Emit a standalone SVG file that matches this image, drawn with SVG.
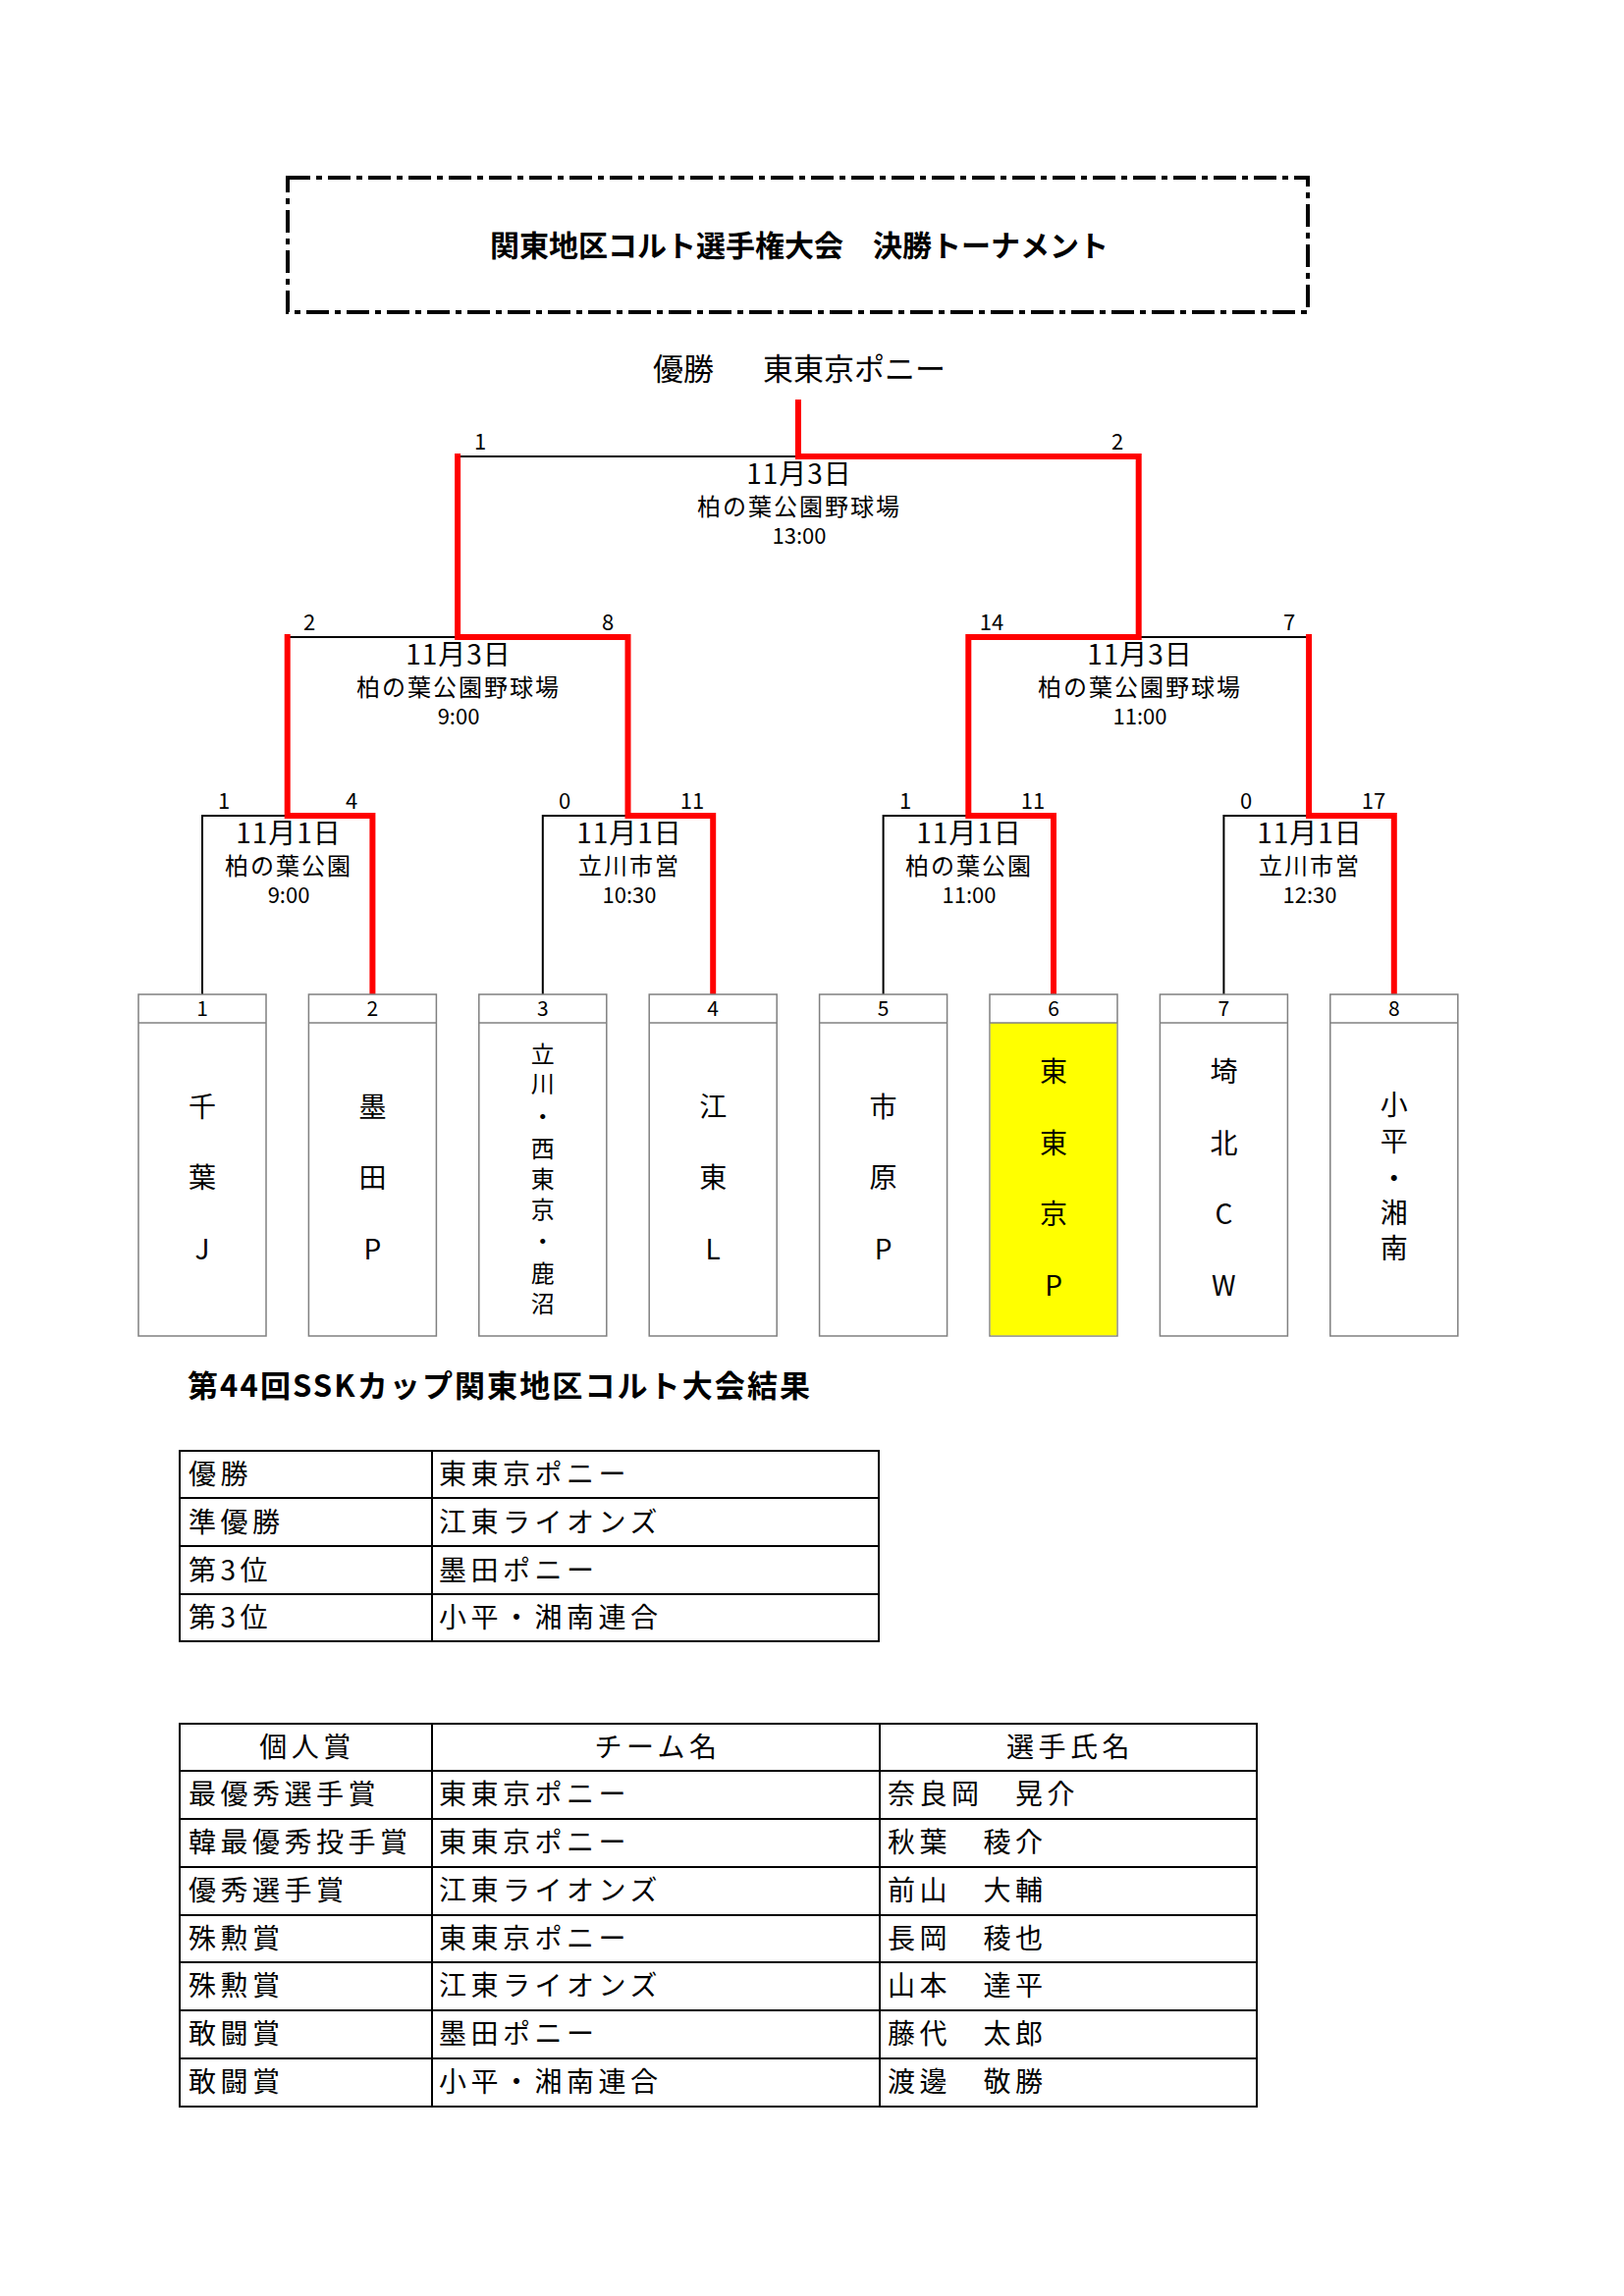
<svg xmlns="http://www.w3.org/2000/svg" width="1654" height="2339" viewBox="0 0 1654 2339">
<style>
text{font-family:"Noto Sans CJK JP","Noto Sans",sans-serif;fill:#000}
.title{font-size:30px;font-weight:700}
.champ{font-size:31px}
.date{font-size:28px;text-anchor:middle;letter-spacing:1px}
.venue{font-size:24px;text-anchor:middle;letter-spacing:2px}
.time{font-size:22px;text-anchor:middle}
.score{font-size:22px;text-anchor:middle}
.num{font-size:21px;text-anchor:middle}
.team{font-size:28px;text-anchor:middle}
.team3{font-size:24px;text-anchor:middle}
.head{font-size:31px;font-weight:700}
.cell{font-size:28px;letter-spacing:4.5px}
.hcell{font-size:28px;letter-spacing:4.5px;text-anchor:middle}
.box{fill:#fff;stroke:#808080;stroke-width:1.5}
.blk{fill:none;stroke:#000;stroke-width:2}
.red{fill:none;stroke:#ff0000;stroke-width:6;stroke-linecap:square;stroke-linejoin:miter}
.tbl{fill:none;stroke:#000;stroke-width:2}
</style>

<g id="title">
<rect x="293" y="181" width="1039" height="137" fill="none" stroke="#000" stroke-width="4" stroke-dasharray="23 6 6 6"/>
<text class="title" x="814" y="261" text-anchor="middle">関東地区コルト選手権大会　決勝トーナメント</text>
</g>

<g id="champion">
<text class="champ" x="665" y="387">優勝</text>
<text class="champ" x="777" y="387">東東京ポニー</text>
</g>

<g id="connectors">
<path class="blk" d="M206,1013 V831 H379.4 V1013"/>
<path class="blk" d="M552.8,1013 V831 H726.2 V1013"/>
<path class="blk" d="M899.6,1013 V831 H1073 V1013"/>
<path class="blk" d="M1246.4,1013 V831 H1419.8 V1013"/>
<path class="blk" d="M292.7,831 V649 H639.5 V831"/>
<path class="blk" d="M986.3,831 V649 H1333.1 V831"/>
<path class="blk" d="M466.1,649 V465 H1159.7 V649"/>
<path class="blk" d="M812.9,465 V410"/>
<path class="red" d="M379.4,1013 V831 H292.7 V649"/>
<path class="red" d="M726.2,1013 V831 H639.5 V649 H466.1 V465"/>
<path class="red" d="M1073,1013 V831 H986.3 V649 H1159.7 V465 H812.9 V410"/>
<path class="red" d="M1419.8,1013 V831 H1333.1 V649"/>
</g>

<g id="final-info">
<text class="score" x="489" y="458">1</text>
<text class="score" x="1138" y="458">2</text>
<text class="date" x="814" y="493">11月3日</text>
<text class="venue" x="814" y="525">柏の葉公園野球場</text>
<text class="time" x="814" y="554">13:00</text>
</g>

<g id="sf1-info">
<text class="score" x="315" y="642">2</text>
<text class="score" x="619" y="642">8</text>
<text class="date" x="467" y="677">11月3日</text>
<text class="venue" x="467" y="709">柏の葉公園野球場</text>
<text class="time" x="467" y="738">9:00</text>
</g>

<g id="sf2-info">
<text class="score" x="1010" y="642">14</text>
<text class="score" x="1313" y="642">7</text>
<text class="date" x="1161" y="677">11月3日</text>
<text class="venue" x="1161" y="709">柏の葉公園野球場</text>
<text class="time" x="1161" y="738">11:00</text>
</g>

<g id="qf1-info">
<text class="score" x="228" y="824">1</text>
<text class="score" x="358" y="824">4</text>
<text class="date" x="294" y="859">11月1日</text>
<text class="venue" x="294" y="891">柏の葉公園</text>
<text class="time" x="294" y="920">9:00</text>
</g>
<g id="qf2-info">
<text class="score" x="575" y="824">0</text>
<text class="score" x="705" y="824">11</text>
<text class="date" x="641" y="859">11月1日</text>
<text class="venue" x="641" y="891">立川市営</text>
<text class="time" x="641" y="920">10:30</text>
</g>
<g id="qf3-info">
<text class="score" x="922" y="824">1</text>
<text class="score" x="1052" y="824">11</text>
<text class="date" x="987" y="859">11月1日</text>
<text class="venue" x="987" y="891">柏の葉公園</text>
<text class="time" x="987" y="920">11:00</text>
</g>
<g id="qf4-info">
<text class="score" x="1269" y="824">0</text>
<text class="score" x="1399" y="824">17</text>
<text class="date" x="1334" y="859">11月1日</text>
<text class="venue" x="1334" y="891">立川市営</text>
<text class="time" x="1334" y="920">12:30</text>
</g>

<g id="team1">
<rect class="box" x="141" y="1013" width="130" height="348"/>
<line x1="141" y1="1042" x2="271" y2="1042" stroke="#808080" stroke-width="1.5"/>
<text class="num" x="206" y="1035">1</text>
<text class="team" x="206" y="1138">千</text>
<text class="team" x="206" y="1210">葉</text>
<text class="team" x="206" y="1283">J</text>
</g>
<g id="team2">
<rect class="box" x="314.4" y="1013" width="130" height="348"/>
<line x1="314.4" y1="1042" x2="444.4" y2="1042" stroke="#808080" stroke-width="1.5"/>
<text class="num" x="379.4" y="1035">2</text>
<text class="team" x="379.4" y="1138">墨</text>
<text class="team" x="379.4" y="1210">田</text>
<text class="team" x="379.4" y="1283">P</text>
</g>
<g id="team3">
<rect class="box" x="487.8" y="1013" width="130" height="348"/>
<line x1="487.8" y1="1042" x2="617.8" y2="1042" stroke="#808080" stroke-width="1.5"/>
<text class="num" x="552.8" y="1035">3</text>
<text class="team3" x="552.8" y="1083">立</text>
<text class="team3" x="552.8" y="1113">川</text>
<text class="team3" x="552.8" y="1146">・</text>
<text class="team3" x="552.8" y="1179">西</text>
<text class="team3" x="552.8" y="1210">東</text>
<text class="team3" x="552.8" y="1241">京</text>
<text class="team3" x="552.8" y="1273">・</text>
<text class="team3" x="552.8" y="1306">鹿</text>
<text class="team3" x="552.8" y="1337">沼</text>
</g>
<g id="team4">
<rect class="box" x="661.2" y="1013" width="130" height="348"/>
<line x1="661.2" y1="1042" x2="791.2" y2="1042" stroke="#808080" stroke-width="1.5"/>
<text class="num" x="726.2" y="1035">4</text>
<text class="team" x="726.2" y="1138">江</text>
<text class="team" x="726.2" y="1210">東</text>
<text class="team" x="726.2" y="1283">L</text>
</g>
<g id="team5">
<rect class="box" x="834.6" y="1013" width="130" height="348"/>
<line x1="834.6" y1="1042" x2="964.6" y2="1042" stroke="#808080" stroke-width="1.5"/>
<text class="num" x="899.6" y="1035">5</text>
<text class="team" x="899.6" y="1138">市</text>
<text class="team" x="899.6" y="1210">原</text>
<text class="team" x="899.6" y="1283">P</text>
</g>
<g id="team6">
<rect class="box" x="1008" y="1013" width="130" height="348"/>
<rect x="1008.75" y="1042" width="128.5" height="318.25" fill="#ffff00"/>
<line x1="1008" y1="1042" x2="1138" y2="1042" stroke="#808080" stroke-width="1.5"/>
<text class="num" x="1073" y="1035">6</text>
<text class="team" x="1073" y="1102">東</text>
<text class="team" x="1073" y="1175">東</text>
<text class="team" x="1073" y="1247">京</text>
<text class="team" x="1073" y="1320">P</text>
</g>
<g id="team7">
<rect class="box" x="1181.4" y="1013" width="130" height="348"/>
<line x1="1181.4" y1="1042" x2="1311.4" y2="1042" stroke="#808080" stroke-width="1.5"/>
<text class="num" x="1246.4" y="1035">7</text>
<text class="team" x="1246.4" y="1102">埼</text>
<text class="team" x="1246.4" y="1175">北</text>
<text class="team" x="1246.4" y="1247">C</text>
<text class="team" x="1246.4" y="1320">W</text>
</g>
<g id="team8">
<rect class="box" x="1354.8" y="1013" width="130" height="348"/>
<line x1="1354.8" y1="1042" x2="1484.8" y2="1042" stroke="#808080" stroke-width="1.5"/>
<text class="num" x="1419.8" y="1035">8</text>
<text class="team" x="1419.8" y="1136">小</text>
<text class="team" x="1419.8" y="1173">平</text>
<text class="team" x="1419.8" y="1211">・</text>
<text class="team" x="1419.8" y="1246">湘</text>
<text class="team" x="1419.8" y="1282">南</text>
</g>

<g id="results-heading">
<text class="head" x="191" y="1423" textLength="634" lengthAdjust="spacing">第44回SSKカップ関東地区コルト大会結果</text>
</g>

<g id="results-table">
<rect class="tbl" x="183" y="1478" width="712" height="194"/>
<line class="tbl" x1="440" y1="1478" x2="440" y2="1672"/>
<line class="tbl" x1="183" y1="1526" x2="895" y2="1526"/>
<line class="tbl" x1="183" y1="1575" x2="895" y2="1575"/>
<line class="tbl" x1="183" y1="1624" x2="895" y2="1624"/>
<text class="cell" x="192" y="1512">優勝</text>
<text class="cell" x="447" y="1512">東東京ポニー</text>
<text class="cell" x="192" y="1561">準優勝</text>
<text class="cell" x="447" y="1561">江東ライオンズ</text>
<text class="cell" x="192" y="1610">第3位</text>
<text class="cell" x="447" y="1610">墨田ポニー</text>
<text class="cell" x="192" y="1658">第3位</text>
<text class="cell" x="447" y="1658">小平・湘南連合</text>
</g>

<g id="awards-table">
<rect class="tbl" x="183" y="1756" width="1097" height="390"/>
<line class="tbl" x1="440" y1="1756" x2="440" y2="2146"/>
<line class="tbl" x1="896" y1="1756" x2="896" y2="2146"/>
<line class="tbl" x1="183" y1="1804" x2="1280" y2="1804"/>
<line class="tbl" x1="183" y1="1853" x2="1280" y2="1853"/>
<line class="tbl" x1="183" y1="1902" x2="1280" y2="1902"/>
<line class="tbl" x1="183" y1="1951" x2="1280" y2="1951"/>
<line class="tbl" x1="183" y1="1999" x2="1280" y2="1999"/>
<line class="tbl" x1="183" y1="2048" x2="1280" y2="2048"/>
<line class="tbl" x1="183" y1="2097" x2="1280" y2="2097"/>
<text class="hcell" x="313" y="1790">個人賞</text>
<text class="hcell" x="670" y="1790">チーム名</text>
<text class="hcell" x="1090" y="1790">選手氏名</text>
<text class="cell" x="192" y="1838">最優秀選手賞</text>
<text class="cell" x="447" y="1838">東東京ポニー</text>
<text class="cell" x="904" y="1838">奈良岡　晃介</text>
<text class="cell" x="192" y="1887">韓最優秀投手賞</text>
<text class="cell" x="447" y="1887">東東京ポニー</text>
<text class="cell" x="904" y="1887">秋葉　稜介</text>
<text class="cell" x="192" y="1936">優秀選手賞</text>
<text class="cell" x="447" y="1936">江東ライオンズ</text>
<text class="cell" x="904" y="1936">前山　大輔</text>
<text class="cell" x="192" y="1985">殊勲賞</text>
<text class="cell" x="447" y="1985">東東京ポニー</text>
<text class="cell" x="904" y="1985">長岡　稜也</text>
<text class="cell" x="192" y="2033">殊勲賞</text>
<text class="cell" x="447" y="2033">江東ライオンズ</text>
<text class="cell" x="904" y="2033">山本　達平</text>
<text class="cell" x="192" y="2082">敢闘賞</text>
<text class="cell" x="447" y="2082">墨田ポニー</text>
<text class="cell" x="904" y="2082">藤代　太郎</text>
<text class="cell" x="192" y="2131">敢闘賞</text>
<text class="cell" x="447" y="2131">小平・湘南連合</text>
<text class="cell" x="904" y="2131">渡邊　敬勝</text>
</g>
</svg>
